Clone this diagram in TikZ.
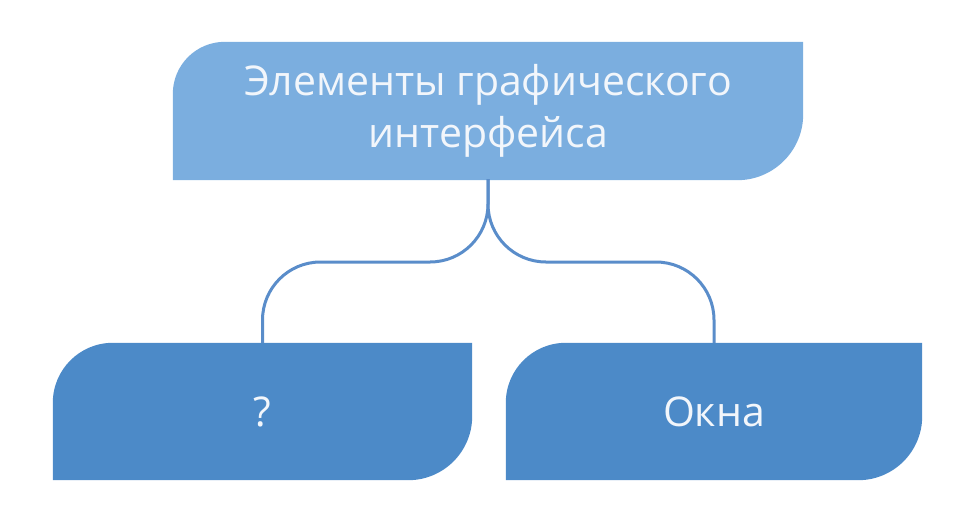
\documentclass[tikz,border=0pt]{standalone}
\usepackage{fontspec}
\setmainfont{Open Sans}
\usetikzlibrary{backgrounds}
\definecolor{topblue}{HTML}{7BAEDF}
\definecolor{leafblue}{HTML}{4C8AC8}
\definecolor{linkblue}{HTML}{5A8DCA}
\definecolor{txtwhite}{HTML}{F2F6FB}
\tikzset{
  boxtext/.style={inner sep=0pt, align=center, text=txtwhite,
    font=\fontsize{41pt}{52pt}\selectfont},
  link/.style={draw=linkblue, line width=3pt, rounded corners=58pt},
}
\begin{document}
\begin{tikzpicture}[x=1pt,y=-1pt]
\useasboundingbox (0,0) rectangle (953,512);
% named nodes (rectangular frames, shapes drawn behind)
\node[boxtext, minimum width=630pt, minimum height=136pt] (t) at (488,111) {Элементы графического\\интерфейса};
\node[boxtext, minimum width=419pt, minimum height=137pt] (l) at (262.5,411.5) {?};
\node[boxtext, minimum width=416pt, minimum height=137pt] (r) at (714,411.5) {Окна};
\begin{scope}[on background layer]
  % top box: rounded top-left and bottom-right
  \fill[topblue] ([yshift=-1pt]t.south west) -- ([yshift=-51pt]t.north west) arc[start angle=180, end angle=90, radius=52pt]
    -- ([yshift=1pt]t.north east) -- ([yshift=65pt]t.south east) arc[start angle=0, end angle=-90, radius=66pt] -- cycle;
  \fill[leafblue] (l.south west) -- ([yshift=-60pt]l.north west) arc[start angle=180, end angle=90, radius=60pt]
    -- (l.north east) -- ([yshift=64pt]l.south east) arc[start angle=0, end angle=-90, radius=64pt] -- cycle;
  \fill[leafblue] (r.south west) -- ([yshift=-60pt]r.north west) arc[start angle=180, end angle=90, radius=60pt]
    -- (r.north east) -- ([yshift=64pt]r.south east) arc[start angle=0, end angle=-90, radius=64pt] -- cycle;
\end{scope}
\coordinate (mid) at (488,262);
\draw[link] (t.south) |- (l.north |- mid) -- (l.north);
\draw[link] (t.south) |- (r.north |- mid) -- (r.north);
\end{tikzpicture}
\end{document}
